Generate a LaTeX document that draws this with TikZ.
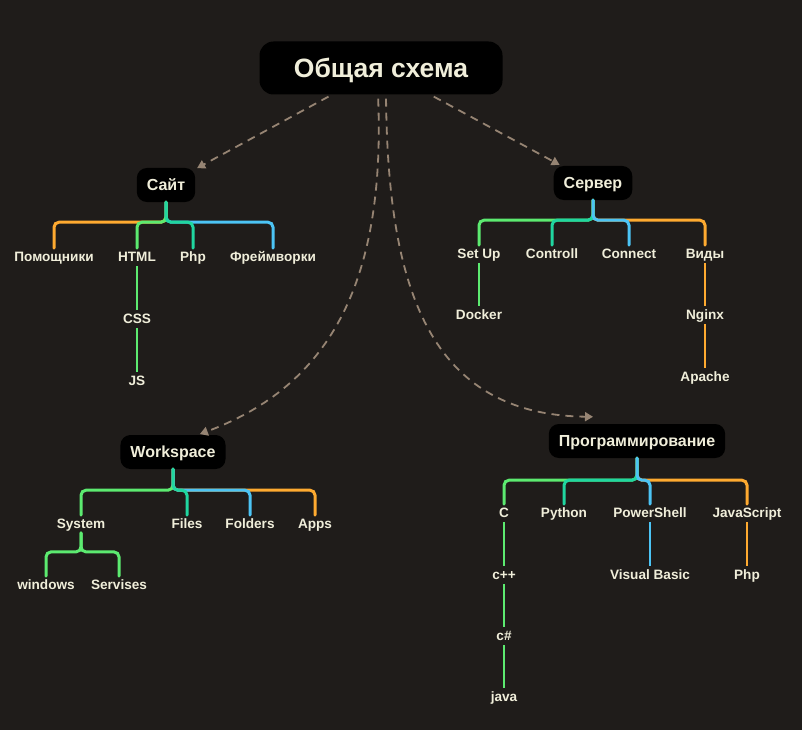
\documentclass[tikz,border=0pt]{standalone}
\usepackage{fontspec}
\setmainfont{Liberation Sans}
\usetikzlibrary{arrows.meta,positioning,calc}

\definecolor{bgc}{RGB}{31,28,26}
\definecolor{ink}{RGB}{240,238,218}
\definecolor{linkc}{RGB}{150,132,115}
\definecolor{lgreen}{RGB}{92,234,112}
\definecolor{lteal}{RGB}{32,214,160}
\definecolor{lblue}{RGB}{76,196,245}
\definecolor{lorange}{RGB}{254,170,48}

\begin{document}
\begin{tikzpicture}[x=1pt,y=-1pt,
  leaf/.style={text=ink,font=\bfseries\fontsize{13.6}{15}\selectfont,text height=11pt,text depth=1.4pt,inner sep=2.5pt},
  topic/.style={fill=black,rounded corners=10pt,text=ink,font=\bfseries\fontsize{16}{18}\selectfont,text height=12.5pt,text depth=1pt,minimum height=34pt,inner xsep=10pt},
  branch/.style={line width=3pt,rounded corners=5pt,line cap=round},
  twig/.style={line width=2pt},
  link/.style={draw=linkc,line width=1.8pt,dash pattern=on 8pt off 6pt,-{Triangle[length=8pt,width=9pt]},shorten <=4pt,shorten >=2pt}]

  \path[use as bounding box,fill=bgc] (0,0) rectangle (802,730);

  \node[topic,rounded corners=14pt,minimum width=243pt,minimum height=53pt,text height=20pt,text depth=1.4pt,font=\bfseries\fontsize{26.5}{30}\selectfont] (main) at (381,68) {Общая схема};

  \node[topic] (site) at (166,185) {Сайт};
  \node[topic] (server) at (593,183) {Сервер};
  \node[topic] (work) at (173,452) {Workspace};
  \node[topic] (prog) at (637,441) {Программирование};

  % links from the main box
  \draw[link] (main) -- (site);
  \draw[link] (main) -- (server);
  \draw[link] ([xshift=-3pt]main.south) .. controls +(8,204) and +(120,-45) .. ([xshift=25pt]work.north);
  \draw[link] ([xshift=5pt]main.south) .. controls +(2,195) and +(-165,-2) .. ([shift={(-42,-7)}]prog.north);

  % site
  \foreach \n/\x/\lbl in {help/54/Помощники, html/137/HTML, sphp/193/Php, frame/273/Фреймворки}
    \node[leaf] (\n) at (\x,257) {\lbl};
  \node[leaf] (css) at (137,319) {CSS};
  \node[leaf] (js) at (137,381) {JS};
  \foreach \n/\c in {help/lorange, frame/lblue, html/lgreen, sphp/lteal}
    \draw[branch,\c] (site.south) -- ++(0,20) -| (\n.north);
  \draw[twig,lgreen] (html) -- (css);
  \draw[twig,lgreen] (css) -- (js);

  % server
  \foreach \n/\x/\lbl in {setup/479/Set Up, ctrl/552/Controll, conn/629/Connect, kinds/705/Виды}
    \node[leaf] (\n) at (\x,254) {\lbl};
  \node[leaf] (docker) at (479,315) {Docker};
  \node[leaf] (nginx) at (705,315) {Nginx};
  \node[leaf] (apache) at (705,377) {Apache};
  \foreach \n/\c in {setup/lgreen, kinds/lorange, ctrl/lteal, conn/lblue}
    \draw[branch,\c] (server.south) -- ++(0,20) -| (\n.north);
  \draw[twig,lgreen] (setup) -- (docker);
  \draw[twig,lorange] (kinds) -- (nginx);
  \draw[twig,lorange] (nginx) -- (apache);

  % workspace
  \foreach \n/\x/\lbl in {sys/81/System, files/187/Files, folders/250/Folders, apps/315/Apps}
    \node[leaf] (\n) at (\x,524) {\lbl};
  \node[leaf] (win) at (46,585) {windows};
  \node[leaf] (serv) at (119,585) {Servises};
  \foreach \n/\c in {sys/lgreen, apps/lorange, folders/lblue, files/lteal}
    \draw[branch,\c] (work.south) -- ++(0,21) -| (\n.north);
  \foreach \n in {win, serv}
    \draw[branch,lgreen] (sys.south) -- ++(0,19) -| (\n.north);

  % programming
  \foreach \n/\x/\lbl in {c/504/C, py/564/Python, ps/650/PowerShell, jscr/747/JavaScript}
    \node[leaf] (\n) at (\x,513) {\lbl};
  \node[leaf] (cpp) at (504,575) {c++};
  \node[leaf] (cs) at (504,636) {c\#};
  \node[leaf] (java) at (504,697) {java};
  \node[leaf] (vb) at (650,575) {Visual Basic};
  \node[leaf] (pphp) at (747,575) {Php};
  \foreach \n/\c in {c/lgreen, jscr/lorange, py/lteal, ps/lblue}
    \draw[branch,\c] (prog.south) -- ++(0,22) -| (\n.north);
  \draw[twig,lgreen] (c) -- (cpp);
  \draw[twig,lgreen] (cpp) -- (cs);
  \draw[twig,lgreen] (cs) -- (java);
  \draw[twig,lblue] (ps) -- (vb);
  \draw[twig,lorange] (jscr) -- (pphp);
\end{tikzpicture}
\end{document}
